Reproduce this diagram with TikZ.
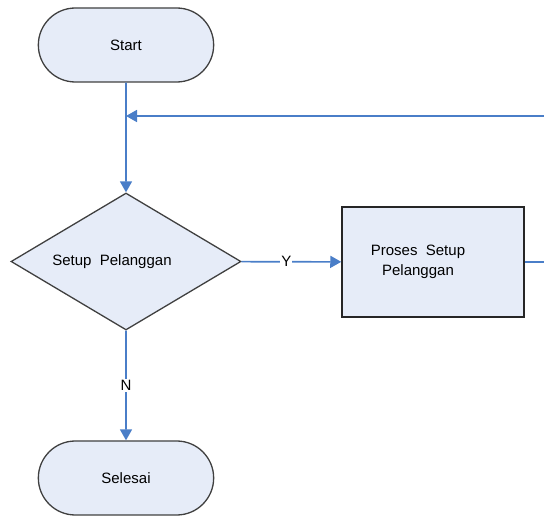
\documentclass[tikz,border=0pt]{standalone}
\usepackage{fontspec}
\setmainfont{Liberation Sans}
\usetikzlibrary{shapes.geometric,shapes.misc,arrows.meta}
\definecolor{boxfill}{HTML}{E6ECF8}
\definecolor{flowline}{HTML}{4A7EC8}

\begin{document}
\begin{tikzpicture}[x=1pt,y=-1pt,
  txt/.style={font=\fontsize{15}{20}\selectfont},
  term/.style={rounded rectangle,draw=black!75,fill=boxfill,line width=1.3pt,minimum width=182pt,minimum height=74pt,txt},
  proc/.style={rectangle,draw=black!85,fill=boxfill,line width=1.5pt,minimum width=182pt,minimum height=110pt,align=center,txt},
  decide/.style={diamond,draw=black!75,fill=boxfill,line width=1.3pt,aspect=1.68,minimum width=230pt,minimum height=137pt,inner sep=0pt,txt},
  flow/.style={draw=flowline,line width=1.6pt},
  arr/.style={flow,-{Triangle[width=12pt,length=11pt]}}]
\useasboundingbox (0,0) rectangle (544,518);

\node[term] (start) at (126,45) {Start};
\node[decide] (setup) at (126,261.5) {\hspace*{-28pt}Setup\ \ Pelanggan};
\node[proc] (proses) at (433,262) {\hspace*{-30pt}Proses\ \ Setup\\\hspace*{-30pt}Pelanggan};
\node[term] (selesai) at (126,478) {Selesai};

\coordinate (loopin) at (544,116);
\coordinate (loopout) at (544,262);
\coordinate (join) at (start |- loopin);

\draw[arr] (start) -- (setup);
\draw[arr] (loopin) -- (join);
\draw[arr] (setup) -- node[pos=0.45,fill=white,inner sep=1pt,txt]{Y} (proses);
\draw[flow] (proses) -- (loopout);
\draw[arr] (setup) -- node[fill=white,inner sep=1pt,txt]{N} (selesai);
\end{tikzpicture}
\end{document}
